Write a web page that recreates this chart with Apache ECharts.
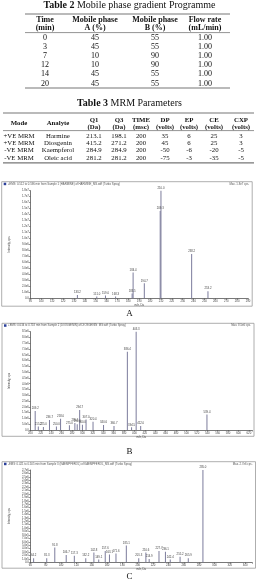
<!DOCTYPE html>
<html>
<head>
<meta charset="utf-8">
<script src="https://cdn.jsdelivr.net/npm/echarts@6/dist/echarts.min.js"></script>
<style>
  html, body { margin: 0; padding: 0; background: #fff; }
  #chart { width: 259px; height: 587px; }
</style>
</head>
<body>
<div id="chart"></div>
<script>
// Table 2 - mobile phase gradient
const gradHead1 = ['Time', 'Mobile phase', 'Mobile phase', 'Flow rate'];
const gradHead2 = ['(min)', 'A (%)', 'B (%)', '(mL/min)'];
const gradTime = ['0', '3', '7', '12', '14', '20'];
const gradA = ['45', '45', '10', '10', '45', '45'];
const gradB = ['55', '55', '90', '90', '55', '55'];
const gradFlow = ['1.00', '1.00', '1.00', '1.00', '1.00', '1.00'];

// Table 3 - MRM parameters
const mrmHead1 = ['Mode', 'Analyte', 'Q1', 'Q3', 'TIME', 'DP', 'EP', 'CE', 'CXP'];
const mrmHead2 = ['', '', '(Da)', '(Da)', '(msc)', '(volts)', '(volts)', '(volts)', '(volts)'];
const mrmMode = ['+VE MRM', '+VE MRM', '-VE MRM', '-VE MRM'];
const mrmAnalyte = ['Harmine', 'Diosgenin', 'Kaempferol', 'Oleic acid'];
const mrmQ1 = ['213.1', '415.2', '284.9', '281.2'];
const mrmQ3 = ['198.1', '271.2', '284.9', '281.2'];
const mrmTime = ['200', '200', '200', '200'];
const mrmDP = ['35', '45', '-50', '-75'];
const mrmEP = ['6', '6', '-6', '-3'];
const mrmCE = ['25', '25', '-20', '-35'];
const mrmCXP = ['3', '3', '-5', '-5'];

// Spectrum A
const specAmz  = [133.2, 151.0, 159.0, 168.3, 183.5, 184.4, 194.7, 209.3, 210.0, 238.2, 253.2];
const specAint = [0.55e6, 0.3e6, 0.45e6, 0.3e6, 0.8e6, 4.3e6, 2.5e6, 1.46e7, 1.8e7, 7.4e6, 1.2e6];

// Spectrum B
const specBmz  = [209.2, 215.2, 225.0, 236.7, 250.0, 258.0, 275.0, 285.5, 290.0, 294.7, 300.0, 307.0, 320.4, 340.6, 360.7, 386.4, 394.5, 403.3, 412.0, 539.4];
const specBint = [1.64e6, 0.3e6, 0.25e6, 0.86e6, 0.3e6, 0.98e6, 0.4e6, 0.6e6, 0.5e6, 1.73e6, 0.45e6, 0.9e6, 0.72e6, 0.43e6, 0.35e6, 6.77e6, 0.23e6, 8.5e6, 0.35e6, 1.35e6];

// Spectrum C
const specCmz  = [64.2, 81.3, 91.8, 106.7, 117.3, 132.2, 142.8, 149.1, 157.6, 163.1, 171.6, 185.1, 201.3, 210.6, 214.9, 227.7, 236.1, 242.4, 255.2, 265.9, 285.0];
const specCint = [0.12e6, 0.12e6, 0.43e6, 0.21e6, 0.19e6, 0.12e6, 0.29e6, 0.08e6, 0.33e6, 0.23e6, 0.26e6, 0.49e6, 0.12e6, 0.29e6, 0.1e6, 0.33e6, 0.31e6, 0.08e6, 0.16e6, 0.12e6, 2.7e6];

const SERIF = 'Liberation Serif';
const SANS = 'Liberation Sans';

function txt(x, y, text, size, bold, align) {
  return {
    type: 'text', x: x, y: y, silent: true,
    style: {
      text: text, fontSize: size, fontFamily: SERIF, fontWeight: bold ? 'bold' : 'normal',
      fill: '#111', align: align || 'center', verticalAlign: 'middle'
    }
  };
}
function rule(x1, x2, y, w) {
  return { type: 'line', silent: true, shape: { x1: x1, y1: y, x2: x2, y2: y }, style: { stroke: '#777', lineWidth: w || 1 } };
}
function caption(y, num, rest) {
  return {
    type: 'text', x: 129.5, y: y, silent: true,
    style: {
      text: '{b|' + num + '} ' + rest, fontSize: 10, fontFamily: SERIF, fill: '#111',
      align: 'center', verticalAlign: 'middle',
      rich: { b: { fontWeight: 'bold', fontSize: 10, fontFamily: SERIF } }
    }
  };
}

const graphics = [];

// Table 2
graphics.push(caption(5, 'Table 2', 'Mobile phase gradient Programme'));
graphics.push(rule(25, 230, 14, 1.2));
const gradCols = [45, 95, 155, 205];
const gradRows = [gradTime, gradA, gradB, gradFlow];
gradCols.forEach((cx, c) => {
  graphics.push(txt(cx, 19.5, gradHead1[c], 8, true));
  graphics.push(txt(cx, 28.3, gradHead2[c], 8, true));
  gradRows[c].forEach((v, r) => graphics.push(txt(cx, 37.5 + r * 9.2, v, 8, false)));
});
graphics.push(rule(25, 230, 32.6, 0.8));
graphics.push(rule(25, 230, 88, 1.2));

// Table 3
graphics.push(caption(103.5, 'Table 3', 'MRM Parameters'));
graphics.push(rule(3, 254, 113, 1.2));
const mrmCols = [19, 58, 94, 119, 141, 165, 189, 214, 241];
const mrmRows = [mrmMode, mrmAnalyte, mrmQ1, mrmQ3, mrmTime, mrmDP, mrmEP, mrmCE, mrmCXP];
mrmCols.forEach((cx, c) => {
  if (mrmHead2[c]) {
    graphics.push(txt(cx, 120, mrmHead1[c], 6.8, true));
    graphics.push(txt(cx, 126.8, mrmHead2[c], 6.8, true));
  } else {
    graphics.push(txt(cx, 123.4, mrmHead1[c], 6.8, true));
  }
  mrmRows[c].forEach((v, r) => graphics.push(txt(cx, 135.8 + r * 7.4, v, 6.8, false)));
});
graphics.push(rule(3, 254, 130.6, 0.8));
graphics.push(rule(3, 254, 162.8, 1.2));

// spectrum frames, headers and panel letters
const panels = [
  { frame: [1.7, 181.7, 250.5, 124.5], head: '+EMS: 0.512 to 0.596 min from Sample 1 (HARMINE) of HARMINE_MS.wiff (Turbo Spray)', max: 'Max. 1.8e7 cps.', letter: 'A', ly: 313.5 },
  { frame: [2, 323.3, 252, 113], head: '+EMS: 0.634 to 0.718 min from Sample 2 (DIOSGENIN) of DIOSGENIN_MS.wiff (Turbo Spray)', max: 'Max. 8.5e6 cps.', letter: 'B', ly: 452 },
  { frame: [2, 461.7, 253.5, 106.5], head: '-EMS: 0.421 to 0.505 min from Sample 3 (KAEMPFEROL) of KAEMPFEROL_MS.wiff (Turbo Spray)', max: 'Max. 2.7e6 cps.', letter: 'C', ly: 577 }
];
panels.forEach(p => {
  const [x, y, w, h] = p.frame;
  graphics.push({ type: 'rect', silent: true, shape: { x: x, y: y, width: w, height: h }, style: { fill: 'none', stroke: '#999', lineWidth: 0.8 } });
  graphics.push({ type: 'rect', silent: true, shape: { x: x + 2, y: y + 1, width: 2.5, height: 2.5 }, style: { fill: '#2a3f9a' } });
  graphics.push({ type: 'text', silent: true, x: x + 6, y: y + 2.3, style: { text: p.head, fontSize: 2.8, fontFamily: SANS, fill: '#555', align: 'left', verticalAlign: 'middle' } });
  graphics.push({ type: 'text', silent: true, x: x + w - 3, y: y + 2.3, style: { text: p.max, fontSize: 2.8, fontFamily: SANS, fill: '#555', align: 'right', verticalAlign: 'middle' } });
  graphics.push(txt(129.5, p.ly, p.letter, 9, false));
});

const expFmt = v => v === 0 ? '0.0' : v.toExponential(1).replace('e+', 'e');
const axisText = { fontSize: 2.8, color: '#444', fontFamily: SANS };

function xAx(i, min, max, step) {
  return {
    type: 'value', gridIndex: i, min: min, max: max, interval: step,
    name: 'm/z, Da', nameLocation: 'middle', nameGap: 5, nameTextStyle: axisText,
    axisLine: { lineStyle: { color: '#555', width: 0.8 } },
    axisTick: { length: 1.5, lineStyle: { color: '#555', width: 0.6 } },
    axisLabel: Object.assign({ margin: 1.5, formatter: v => (Math.abs(v % step) < 1e-9 ? String(v) : '') }, axisText),
    splitLine: { show: false }
  };
}
function yAx(i, max, step) {
  return {
    type: 'value', gridIndex: i, min: 0, max: max, interval: step,
    name: 'Intensity, cps', nameLocation: 'middle', nameRotate: 90, nameGap: 8, nameTextStyle: axisText,
    axisLine: { show: true, lineStyle: { color: '#555', width: 0.8 } },
    axisTick: { show: true, length: 1.5, lineStyle: { color: '#555', width: 0.6 } },
    axisLabel: Object.assign({ margin: 1.5, formatter: expFmt }, axisText),
    splitLine: { show: false }
  };
}
function spec(i, mz, inten) {
  return {
    type: 'bar', xAxisIndex: i, yAxisIndex: i, barWidth: 1,
    data: mz.map((m, k) => [m, inten[k]]),
    itemStyle: { color: '#7c7c9c' },
    label: { show: true, position: 'top', distance: 1, fontSize: 2.8, color: '#444', fontFamily: SANS,
             formatter: p => p.value[0].toFixed(1) }
  };
}

const chart = echarts.init(document.getElementById('chart'), null, { renderer: 'canvas' });
chart.setOption({
  animation: false,
  backgroundColor: '#fff',
  grid: [
    { left: 16.7, right: 11, top: 190.7, height: 107.6 },
    { left: 21.7, right: 7, top: 331.7, height: 98.3 },
    { left: 25, right: 7, top: 470, height: 92.3 }
  ],
  xAxis: [xAx(0, 90, 290, 10), xAx(1, 200, 626, 20), xAx(2, 60, 349, 20)],
  yAxis: [yAx(0, 1.8e7, 1e6), yAx(1, 8.5e6, 5e5), yAx(2, 2.7e6, 1e5)],
  series: [spec(0, specAmz, specAint), spec(1, specBmz, specBint), spec(2, specCmz, specCint)],
  graphic: { elements: graphics }
});
</script>
</body>
</html>
